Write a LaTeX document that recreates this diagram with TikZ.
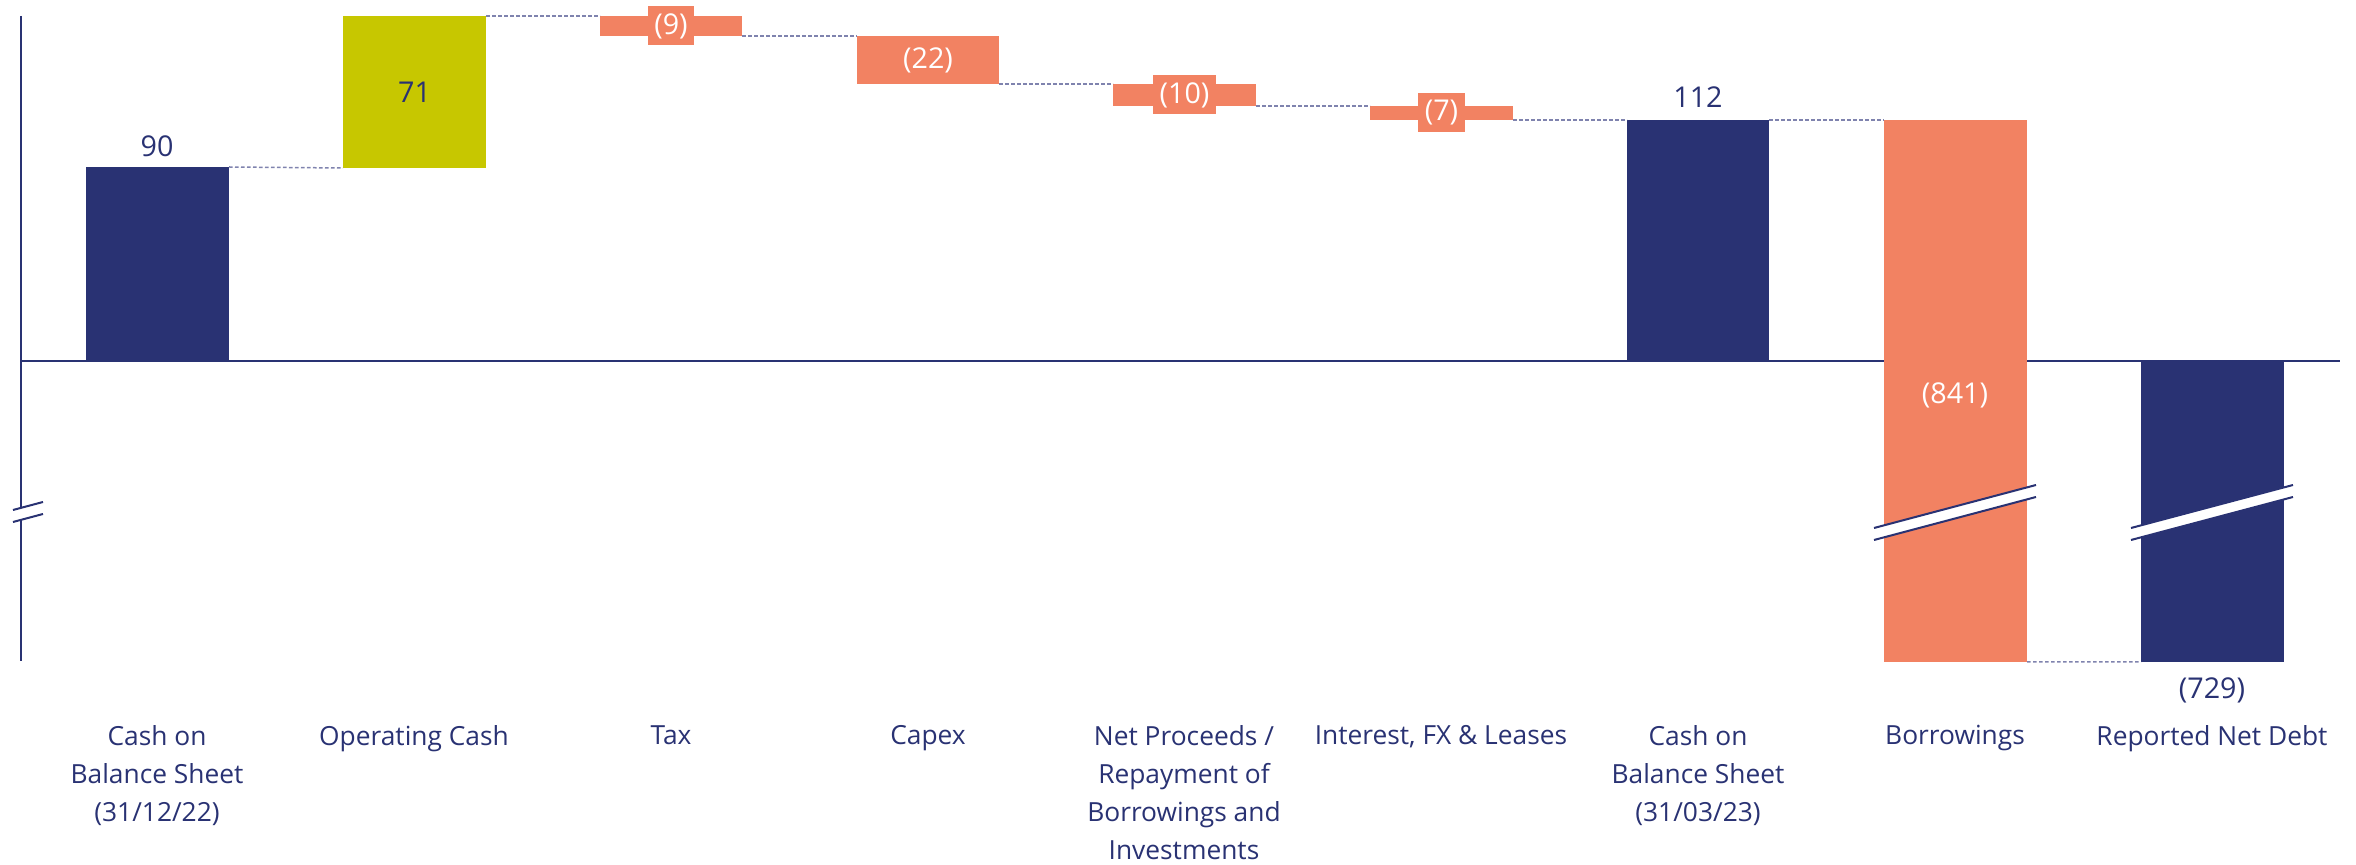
\documentclass[tikz,border=0pt]{standalone}
\usepackage{fontspec}
\setmainfont{Open Sans}
\definecolor{navy}{HTML}{293273}
\definecolor{coral}{HTML}{F28262}
\definecolor{olive}{HTML}{C7C700}
\definecolor{dashc}{HTML}{7F83AE}
\newcommand\wfbar[6]{\node[barbox, fill=#6, minimum width={(#4-#2)*0.3pt}, minimum height={(#5-#3)*0.3pt}] (#1) at ({(#2+#4)/2},{(#3+#5)/2}) {};}
\tikzset{
  barbox/.style={draw=none, inner sep=0pt, outer sep=0pt, rectangle},
  conn/.style={draw=dashc, dash pattern=on 1.1pt off 0.7pt, line width=0.45pt},
  axisline/.style={draw=navy, line width=0.6pt},
  valtxt/.style={text=navy, font=\fontsize{8.6pt}{10pt}\selectfont, inner sep=0pt},
  wvaltxt/.style={text=white, font=\fontsize{8.6pt}{10pt}\selectfont, inner sep=0pt},
  tagbox/.style={fill=coral, text=white, font=\fontsize{8.6pt}{10pt}\selectfont, inner xsep=2pt, inner ysep=0pt, minimum height=11.7pt},
  cattxt/.style={text=navy, font=\fontsize{7.9pt}{11.4pt}\selectfont, align=center, anchor=north, inner sep=0pt},
  brk/.style={draw=navy, line width=0.6pt},
}
\begin{document}
\begin{tikzpicture}[x=0.3pt, y=-0.3pt]
\useasboundingbox (0,0) rectangle (2356,865);
% axes
\coordinate (axtop) at (21,16);
\coordinate (axbot) at (21,661);
\coordinate (zl) at (21,361);
\coordinate (zr) at (2340,361);
\draw[axisline] (axtop) -- (axbot);
\draw[axisline] (zl) -- (zr);
% bars
\wfbar{b1}{86}{167}{229}{361}{navy}
\wfbar{b2}{343}{16}{486}{168}{olive}
\wfbar{b3}{600}{16}{742}{36}{coral}
\wfbar{b4}{857}{36}{999}{84}{coral}
\wfbar{b5}{1113}{84}{1256}{106}{coral}
\wfbar{b6}{1370}{106}{1513}{120}{coral}
\wfbar{b7}{1627}{120}{1769}{361}{navy}
\wfbar{b8}{1884}{120}{2027}{662}{coral}
\wfbar{b9}{2141}{361}{2284}{662}{navy}
% connectors
\draw[conn] (b1.north east) -- (b2.south west);
\draw[conn] (b2.north east) -- (b3.north west);
\draw[conn] (b3.south east) -- (b4.north west);
\draw[conn] (b4.south east) -- (b5.north west);
\draw[conn] (b5.south east) -- (b6.north west);
\draw[conn] (b6.south east) -- (b7.north west);
\draw[conn] (b7.north east) -- (b8.north west);
\draw[conn] (b8.south east) -- (b9.south west);
% axis break
\fill[white] (13,510) -- (43,502) -- (43,514) -- (13,522) -- cycle;
\draw[brk] (13,510) -- (43,502);
\draw[brk] (13,522) -- (43,514);
% bar breaks
\fill[white] (1874,528) -- (2036,485) -- (2036,497) -- (1874,540) -- cycle;
\draw[brk] (1874,528) -- (2036,485);
\draw[brk] (1874,540) -- (2036,497);
\fill[white] (2131,528) -- (2293,485) -- (2293,497) -- (2131,540) -- cycle;
\draw[brk] (2131,528) -- (2293,485);
\draw[brk] (2131,540) -- (2293,497);
% values
\node[valtxt] (v1) at (157,146) {90};
\node[valtxt] (v2) at (b2.center) {71};
\node[tagbox] (v3) at (b3.center) {(9)};
\node[wvaltxt] (v4) at (b4.center) {(22)};
\node[tagbox] (v5) at (b5.center) {(10)};
\node[tagbox] (v6) at (b6.center) {(7)};
\node[valtxt] (v7) at (1698,97) {112};
\node[wvaltxt] (v8) at (1955,395) {(841)};
\node[valtxt] (v9) at (2212,690) {(729)};
% categories
\node[cattxt] (c1) at (157,725) {Cash on\\Balance Sheet\\(31/12/22)};
\node[cattxt] (c2) at (414,725) {Operating Cash};
\node[cattxt] (c3) at (671,725) {Tax};
\node[cattxt] (c4) at (928,725) {Capex};
\node[cattxt] (c5) at (1184,725) {Net Proceeds /\\Repayment of\\Borrowings and\\Investments};
\node[cattxt] (c6) at (1441,725) {Interest, FX \& Leases};
\node[cattxt] (c7) at (1698,725) {Cash on\\Balance Sheet\\(31/03/23)};
\node[cattxt] (c8) at (1955,725) {Borrowings};
\node[cattxt] (c9) at (2212,725) {Reported Net Debt};
\end{tikzpicture}
\end{document}
